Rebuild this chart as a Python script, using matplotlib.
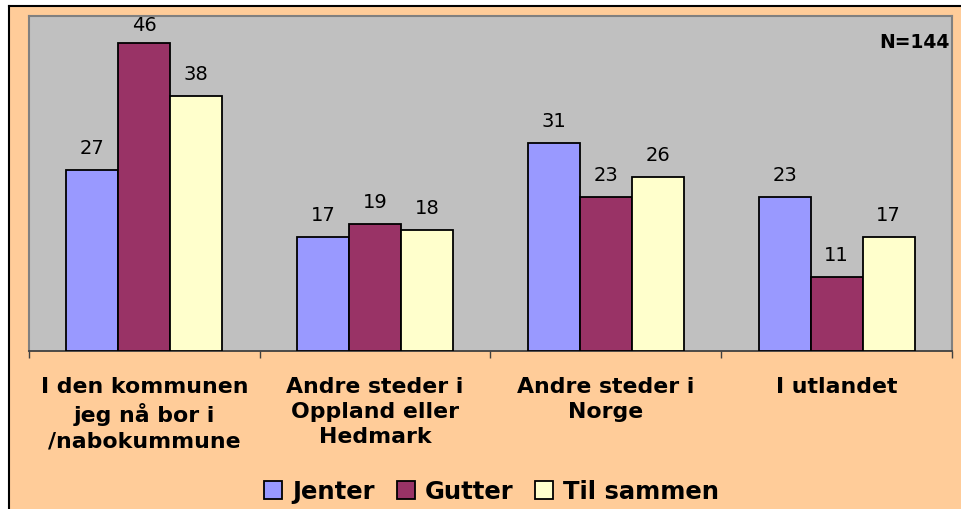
import numpy as np
import matplotlib
matplotlib.use("Agg")
import matplotlib.pyplot as plt
from matplotlib.patches import Rectangle
from matplotlib.lines import Line2D

categories = ["I den kommunen\njeg nå bor i\n/nabokummune",
              "Andre steder i\nOppland eller\nHedmark",
              "Andre steder i\nNorge",
              "I utlandet"]
series = ["Jenter", "Gutter", "Til sammen"]
jenter = [27, 17, 31, 23]
gutter = [46, 19, 23, 11]
til_sammen = [38, 18, 26, 17]
colors = ["#9999FF", "#993366", "#FFFFCC"]

W, H = 962, 510
fig = plt.figure(figsize=(W / 100, H / 100), dpi=100)
fig.patch.set_facecolor("white")

# peach chart area with black line on top and left
fig.patches.append(Rectangle((9 / W, 0), 1 - 9 / W, 1 - 7 / H, transform=fig.transFigure,
                             facecolor="#FFCC99", edgecolor="none", zorder=-10))
fig.lines.append(Line2D([9 / W, 1], [1 - 7 / H, 1 - 7 / H], transform=fig.transFigure,
                        color="black", lw=1.5, zorder=-9))
fig.lines.append(Line2D([9 / W, 9 / W], [0, 1 - 7 / H], transform=fig.transFigure,
                        color="black", lw=1.5, zorder=-9))

ax = fig.add_axes([29 / W, 1 - 352 / H, (952 - 29) / W, (352 - 17) / H])
ax.set_facecolor("#C0C0C0")

ymax = 50
px_per_unit = (352 - 17) / ymax
x = np.arange(len(categories))
w = 0.225
data = [jenter, gutter, til_sammen]
for i, (name, vals) in enumerate(zip(series, data)):
    bars = ax.bar(x + (i - 1) * w, vals, w, color=colors[i], edgecolor="black",
                  linewidth=1.3, label=name, zorder=3)
    for b, v in zip(bars, vals):
        # keep label inside the plot area like excel does
        off = min(13, (ymax - v) * px_per_unit - 18)
        ax.annotate(str(v), (b.get_x() + b.get_width() / 2, v), xytext=(0, off),
                    textcoords="offset pixels", ha="center", va="bottom",
                    fontsize=14, color="black", annotation_clip=False)

ax.set_xlim(-0.5, len(categories) - 0.5)
ax.set_ylim(0, ymax)
ax.set_yticks([])
ax.set_xticks(np.arange(len(categories) + 1) - 0.5)
ax.set_xticklabels([])
ax.tick_params(axis="x", direction="out", length=5, color="#404040", width=1)
ax.set_xticks(x, minor=True)
ax.set_xticklabels(categories, minor=True, fontsize=15.8, fontweight="bold", linespacing=1.32)
ax.tick_params(axis="x", which="minor", length=0, pad=18)

for s in ["top", "right", "left"]:
    ax.spines[s].set_color("#808080")
    ax.spines[s].set_linewidth(1.5)
ax.spines["bottom"].set_color("#404040")
ax.spines["bottom"].set_linewidth(1.3)

ax.text(0.997, 0.925, "N=144", transform=ax.transAxes, ha="right", va="center",
        fontsize=13.5, fontweight="bold")

fig.legend(loc="center", bbox_to_anchor=(0.511, 0.035), ncol=3, frameon=False,
           prop={"size": 17.5, "weight": "bold"}, handlelength=0.75, handleheight=0.75,
           handletextpad=0.4, columnspacing=0.9)

fig.savefig("out.png", dpi=100)
